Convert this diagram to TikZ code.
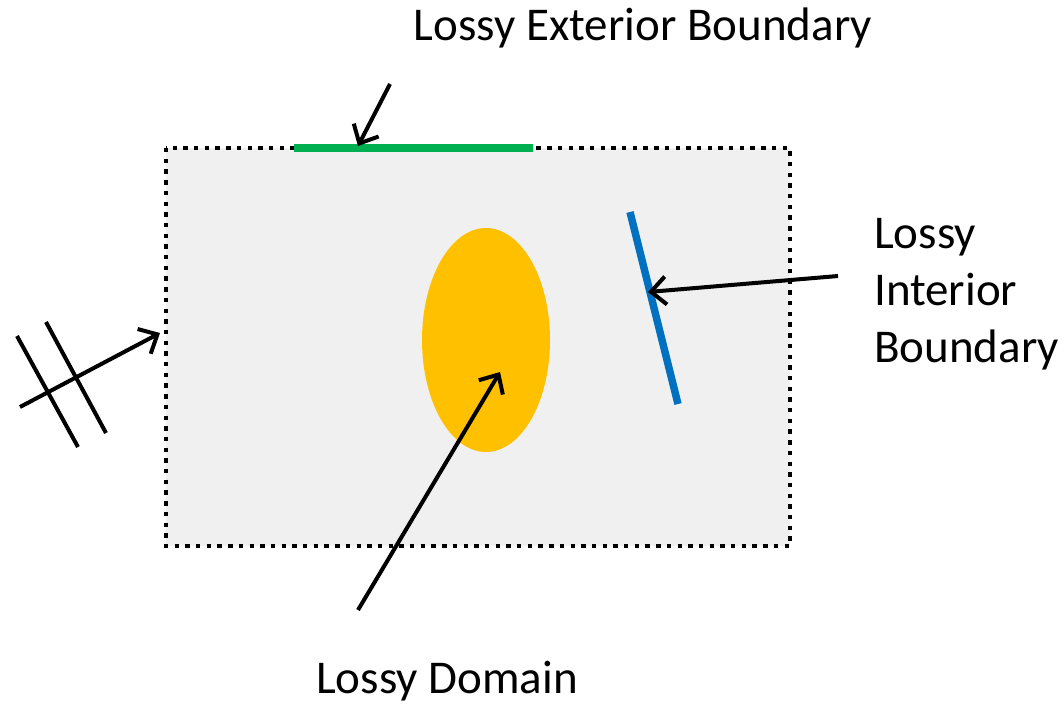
\documentclass[tikz,border=0pt]{standalone}
\usepackage{fontspec}
\setmainfont{Carlito}
\usetikzlibrary{arrows.meta,shapes.geometric}
\definecolor{boxfill}{HTML}{F0F0F0}
\definecolor{lgreen}{HTML}{00B050}
\definecolor{lblue}{HTML}{0070C0}
\definecolor{lorange}{HTML}{FFC000}
\tikzset{
  px/.style={x=1pt,y=-1pt},
  ptr/.style={draw=black,line width=4pt,-{Straight Barb[length=15pt,width=28pt,line width=4pt]}},
  tick/.style={draw=black,line width=4pt},
  lbl/.style={font=\fontsize{47}{57}\selectfont,inner sep=0pt},
}
\begin{document}
\begin{tikzpicture}[px]
\useasboundingbox (0,0) rectangle (1064,705);
% box
\fill[boxfill] (166,148) rectangle (790,546);
\draw[line width=4.4pt,dash pattern=on 4.4pt off 6.3pt] (166,148) rectangle (790,546);
% green exterior boundary
\coordinate (g1) at (294,148);
\coordinate (g2) at (533,148);
\draw[lgreen,line width=7.5pt] (g1) -- (g2);
% blue interior boundary
\coordinate (b1) at (630,212);
\coordinate (b2) at (678,404);
\draw[lblue,line width=7.5pt] (b1) -- (b2);
% domain
\node[ellipse,fill=lorange,minimum width=128pt,minimum height=224pt,inner sep=0pt] (dom) at (486,340) {};
% labels
\node[lbl] (ext) at (643,28) {Lossy Exterior Boundary};
\node[lbl,align=left,anchor=west] (int) at (874,294) {Lossy\\Interior\\Boundary};
\node[lbl] (dl) at (447,681) {Lossy Domain};
% arrows
\coordinate (ea) at (390,84);
\coordinate (eb) at (358,146);
\draw[ptr] (ea) -- (eb);
\coordinate (ia) at (838,276);
\coordinate (ib) at (648,292);
\draw[ptr] (ia) -- (ib);
\coordinate (da) at (358,610);
\coordinate (db) at (500,372);
\draw[ptr] (da) -- (db);
% periodic symbol
\coordinate (pa) at (20,407);
\coordinate (pb) at (160,333);
\draw[ptr] (pa) -- (pb);
\coordinate (t1a) at (17,336);
\coordinate (t1b) at (78,447);
\coordinate (t2a) at (46,322);
\coordinate (t2b) at (106,433);
\draw[tick] (t1a) -- (t1b);
\draw[tick] (t2a) -- (t2b);
\end{tikzpicture}
\end{document}
